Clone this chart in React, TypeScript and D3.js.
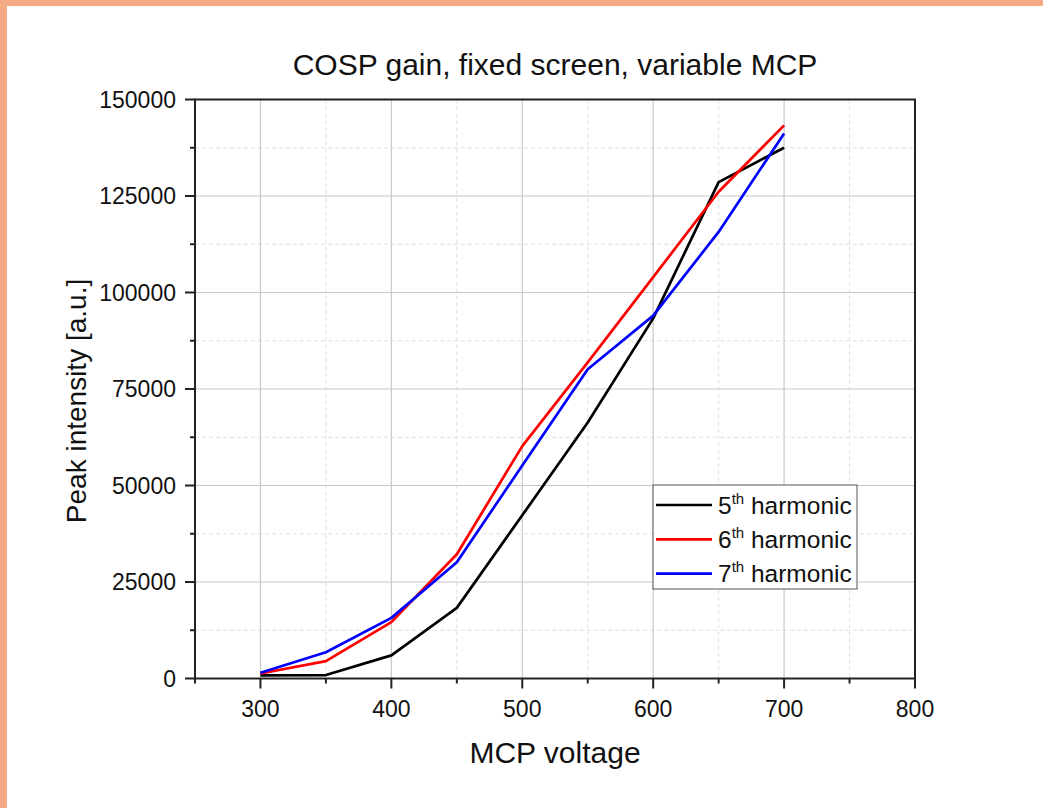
import React from "react";
import * as d3 from "d3";

const voltages = [300, 350, 400, 450, 500, 550, 600, 650, 700];
const h5 = [800, 900, 6000, 18300, 42300, 66300, 93300, 128600, 137500];
const h6 = [1300, 4500, 14600, 32200, 60200, 81900, 104000, 126100, 143300];
const h7 = [1500, 6800, 15700, 30100, 55200, 80100, 94000, 115700, 141200];

const seriesNames = ["5", "6", "7"];
const seriesColors = ["#000000", "#ff0000", "#0000ff"];
const seriesData = [h5, h6, h7];

const xMajorTicks = [300, 400, 500, 600, 700, 800];
const xMinorTicks = [250, 350, 450, 550, 650, 750];
const yMajorTicks = [0, 25000, 50000, 75000, 100000, 125000, 150000];
const yMinorTicks = [12500, 37500, 62500, 87500, 112500, 137500];

const W = 1043;
const H = 808;
const L = 195, R = 915, T = 99.5, B = 678.5;
const FONT = "'Liberation Sans', Arial, Helvetica, sans-serif";

export default function App() {
  const x = d3.scaleLinear().domain([250, 800]).range([L, R]);
  const y = d3.scaleLinear().domain([0, 150000]).range([B, T]);
  const line = d3
    .line<number>()
    .x((_, i) => x(voltages[i]))
    .y((d) => y(d));

  return (
    <svg
      width={W}
      height={H}
      style={{ position: "absolute", left: 0, top: 0, background: "#fff" }}
      fontFamily={FONT}
    >
      <rect x={0} y={0} width={W} height={H} fill="#fff" />
      <rect x={0} y={0} width={W} height={6} fill="#F4AA84" />
      <rect x={0} y={0} width={7} height={H} fill="#F4AA84" />

      {/* grid */}
      {xMinorTicks.filter((v) => v > 250).map((v) => (
        <line key={"xm" + v} x1={x(v)} x2={x(v)} y1={T} y2={B} stroke="#e0e0e0" strokeWidth={1} strokeDasharray="4,3" />
      ))}
      {yMinorTicks.map((v) => (
        <line key={"ym" + v} x1={L} x2={R} y1={y(v)} y2={y(v)} stroke="#e0e0e0" strokeWidth={1} strokeDasharray="4,3" />
      ))}
      {xMajorTicks.filter((v) => v < 800).map((v) => (
        <line key={"xg" + v} x1={x(v)} x2={x(v)} y1={T} y2={B} stroke="#c8c8c8" strokeWidth={1.2} />
      ))}
      {yMajorTicks.filter((v) => v > 0 && v < 150000).map((v) => (
        <line key={"yg" + v} x1={L} x2={R} y1={y(v)} y2={y(v)} stroke="#c8c8c8" strokeWidth={1.2} />
      ))}

      {/* series */}
      {seriesData.map((d, i) => (
        <path key={"s" + i} d={line(d) || ""} fill="none" stroke={seriesColors[i]} strokeWidth={2.7} strokeLinejoin="round" />
      ))}

      {/* frame */}
      <rect x={L} y={T} width={R - L} height={B - T} fill="none" stroke="#222" strokeWidth={2} />

      {/* x ticks */}
      {xMajorTicks.map((v) => (
        <g key={"xt" + v}>
          <line x1={x(v)} x2={x(v)} y1={B} y2={B + 10} stroke="#222" strokeWidth={2} />
          <text x={x(v)} y={717} textAnchor="middle" fontSize={23} fill="#111">{v}</text>
        </g>
      ))}
      {xMinorTicks.map((v) => (
        <line key={"xmt" + v} x1={x(v)} x2={x(v)} y1={B} y2={B + 5} stroke="#222" strokeWidth={2} />
      ))}
      {/* y ticks */}
      {yMajorTicks.map((v) => (
        <g key={"yt" + v}>
          <line x1={L - 10} x2={L} y1={y(v)} y2={y(v)} stroke="#222" strokeWidth={2} />
          <text x={176} y={y(v) + 8} textAnchor="end" fontSize={23} fill="#111">{v}</text>
        </g>
      ))}
      {yMinorTicks.map((v) => (
        <line key={"ymt" + v} x1={L - 5} x2={L} y1={y(v)} y2={y(v)} stroke="#222" strokeWidth={2} />
      ))}

      {/* titles */}
      <text x={555} y={75} textAnchor="middle" fontSize={30} fill="#111">
        COSP gain, fixed screen, variable MCP
      </text>
      <text x={555} y={763} textAnchor="middle" fontSize={30} fill="#111">
        MCP voltage
      </text>
      <text transform={`translate(86,401) rotate(-90)`} textAnchor="middle" fontSize={28} fill="#111">
        Peak intensity [a.u.]
      </text>

      {/* legend */}
      <rect x={653} y={485} width={204} height={104} fill="#fff" stroke="#555" strokeWidth={1} />
      {seriesNames.map((n, i) => {
        const ly = 505 + i * 34.3;
        return (
          <g key={"lg" + i}>
            <line x1={656} x2={712} y1={ly} y2={ly} stroke={seriesColors[i]} strokeWidth={2.7} />
            <text x={718} y={ly + 8.5} fontSize={24.5} fill="#111">
              {n}
              <tspan fontSize={15} dy={-10}>th</tspan>
              <tspan dy={10}> harmonic</tspan>
            </text>
          </g>
        );
      })}
    </svg>
  );
}
